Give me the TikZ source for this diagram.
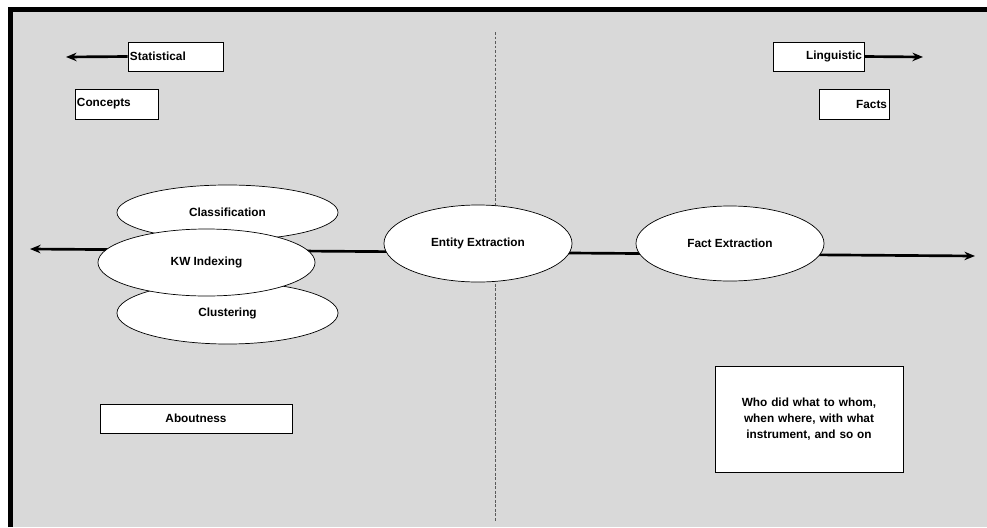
\documentclass[tikz,border=0pt]{standalone}
\usepackage{fontspec}
\setmainfont{Liberation Sans}
\usepackage{tikz}
\usetikzlibrary{shapes.geometric, arrows.meta, positioning}
\definecolor{bggrey}{RGB}{217, 217, 217}
\definecolor{divgrey}{RGB}{90, 90, 90}

\begin{document}
\begin{tikzpicture}[
    x=0.025cm, y=-0.025cm,
    font=\fontsize{8.4}{11.2}\selectfont\bfseries,
    tag/.style={rectangle, draw=black, line width=0.6pt, fill=white, inner sep=0.05cm, minimum height=0.725cm},
    blob/.style={ellipse, draw=black, line width=0.5pt, fill=white, inner sep=0pt, text centered},
    arrow/.style={line width=1.9pt,-{Stealth[length=7.5pt,width=6pt]}}
]
\useasboundingbox (0,0) rectangle (987,527);

% Panel
\fill[bggrey] (10,10) rectangle (987,527);
\draw[line width=3.6pt] (10.5,527) -- (10.5,9.5) -- (987,9.5);
\draw[divgrey, line width=0.5pt, dash pattern=on 2pt off 1.2pt] (495,32) -- (495,522);

% Main axis
\coordinate (lefttip) at (30,249);
\coordinate (righttip) at (975,256);
\draw[arrow, {Stealth[length=7.5pt,width=6pt]}-{Stealth[length=7.5pt,width=6pt]}] (lefttip) -- (righttip);

% Heading tags
\node[tag, text width=2.275cm, align=left] (stat) at (175.5,56.5) {Statistical};
\node[tag, text width=1.975cm, align=left, minimum height=0.75cm] (concepts) at (116.5,104) {Concepts};
\node[tag, text width=2.175cm, align=right] (ling) at (818.5,56.5) {Linguistic};
\node[tag, text width=1.65cm, align=right, minimum height=0.75cm] (facts) at (854,104) {Facts};

\coordinate (stattip) at (66,57);
\coordinate (lingtip) at (923,57);
\draw[arrow] (stat.west) -- (stattip);
\draw[arrow] (ling.east) -- (lingtip);

% Statistical methods
\node[blob, minimum width=5.525cm, minimum height=1.375cm] (cls) at (227.5,212.5) {Classification};
\node[blob, minimum width=5.525cm, minimum height=1.55cm] (clu) at (227.5,313) {Clustering};
\node[blob, minimum width=5.425cm, minimum height=1.675cm] (kw) at (206.5,262.5) {KW Indexing};

% Extraction
\node[blob, minimum width=4.7cm, minimum height=1.925cm] (entity) at (478,243.5) {Entity Extraction};
\node[blob, minimum width=4.7cm, minimum height=1.875cm] (fact) at (730,243.5) {Fact Extraction};

% Bottom notes
\node[tag, minimum width=4.8cm] (about) at (196,418.5) {Aboutness};
\node[tag, text width=4.6cm, align=center, minimum height=2.65cm] (who) at (809,419) {Who did what to whom,\\when where, with what\\instrument, and so on};

\end{tikzpicture}
\end{document}
